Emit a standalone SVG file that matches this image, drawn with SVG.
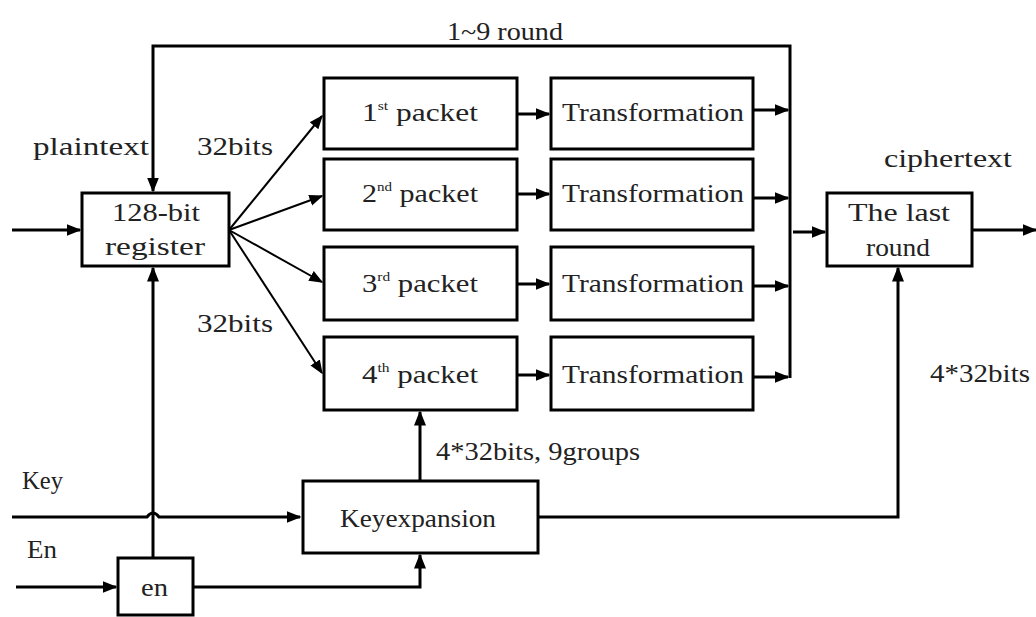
<svg xmlns="http://www.w3.org/2000/svg" width="1036" height="617" viewBox="0 0 1036 617">
<style>
.box{fill:#fff;stroke:#000;stroke-width:3}
.ln{fill:none;stroke:#000;stroke-width:3}
.thin{fill:none;stroke:#000;stroke-width:2}
text{font-family:"Liberation Serif",serif;font-size:26px;fill:#222}
.sup{font-size:13px}
</style>
<defs>
<marker id="ah" viewBox="0 0 10 10" refX="9" refY="5" markerWidth="5" markerHeight="5" orient="auto" markerUnits="strokeWidth">
<path d="M0,1 L10,5 L0,9 Z" fill="#000"/>
</marker>
<marker id="ah2" viewBox="0 0 10 10" refX="9" refY="5" markerWidth="7" markerHeight="7" orient="auto" markerUnits="strokeWidth">
<path d="M0,1 L10,5 L0,9 Z" fill="#000"/>
</marker>
</defs>
<rect width="1036" height="617" fill="#fff"/>
<g id="connectors">
<path class="ln" d="M12,230 H80" marker-end="url(#ah)"/>
<path class="ln" d="M790,378 V46 H153 V191" marker-end="url(#ah)"/>
<path class="thin" d="M229,230 L322,116" marker-end="url(#ah2)"/>
<path class="thin" d="M229,230 L322,196" marker-end="url(#ah2)"/>
<path class="thin" d="M229,230 L322,282" marker-end="url(#ah2)"/>
<path class="thin" d="M229,230 L322,373" marker-end="url(#ah2)"/>
<path class="ln" d="M517,114 H549" marker-end="url(#ah)"/>
<path class="ln" d="M517,194 H549" marker-end="url(#ah)"/>
<path class="ln" d="M517,284 H549" marker-end="url(#ah)"/>
<path class="ln" d="M517,375 H549" marker-end="url(#ah)"/>
<path class="ln" d="M753,110 H788" marker-end="url(#ah)"/>
<path class="ln" d="M753,198 H788" marker-end="url(#ah)"/>
<path class="ln" d="M753,286 H788" marker-end="url(#ah)"/>
<path class="ln" d="M753,377 H788" marker-end="url(#ah)"/>
<path class="ln" d="M793,232 H825" marker-end="url(#ah)"/>
<path class="ln" d="M972,230 H1036" marker-end="url(#ah)"/>
<path class="ln" d="M538,517 H898 V268" marker-end="url(#ah)"/>
<path class="ln" d="M12,517 H147 Q153,509 159,517 H300" marker-end="url(#ah)"/>
<path class="ln" d="M16,587 H116" marker-end="url(#ah)"/>
<path class="ln" d="M193,587 H420 V555" marker-end="url(#ah)"/>
<path class="ln" d="M153,557 V268" marker-end="url(#ah)"/>
<path class="ln" d="M420,481 V412" marker-end="url(#ah)"/>
</g>
<g id="register">
<rect class="box" x="82" y="193" width="147" height="73"/>
<text x="112" y="221" textLength="88" lengthAdjust="spacingAndGlyphs">128-bit</text>
<text x="105" y="255" textLength="100" lengthAdjust="spacingAndGlyphs">register</text>
</g>
<g id="packet1">
<rect class="box" x="324" y="78" width="193" height="71"/>
<text x="362" y="121" textLength="116" lengthAdjust="spacingAndGlyphs">1<tspan class="sup" dy="-11">st</tspan><tspan dy="11"> packet</tspan></text>
</g>
<g id="packet2">
<rect class="box" x="324" y="159" width="193" height="71"/>
<text x="362" y="202" textLength="116" lengthAdjust="spacingAndGlyphs">2<tspan class="sup" dy="-11">nd</tspan><tspan dy="11"> packet</tspan></text>
</g>
<g id="packet3">
<rect class="box" x="324" y="247" width="193" height="73"/>
<text x="362" y="292" textLength="116" lengthAdjust="spacingAndGlyphs">3<tspan class="sup" dy="-11">rd</tspan><tspan dy="11"> packet</tspan></text>
</g>
<g id="packet4">
<rect class="box" x="324" y="337" width="193" height="73"/>
<text x="362" y="383" textLength="116" lengthAdjust="spacingAndGlyphs">4<tspan class="sup" dy="-11">th</tspan><tspan dy="11"> packet</tspan></text>
</g>
<g id="trans1">
<rect class="box" x="551" y="78" width="202" height="71"/>
<text x="562" y="121" textLength="182" lengthAdjust="spacingAndGlyphs">Transformation</text>
</g>
<g id="trans2">
<rect class="box" x="551" y="159" width="202" height="71"/>
<text x="562" y="202" textLength="182" lengthAdjust="spacingAndGlyphs">Transformation</text>
</g>
<g id="trans3">
<rect class="box" x="551" y="247" width="202" height="73"/>
<text x="562" y="292" textLength="182" lengthAdjust="spacingAndGlyphs">Transformation</text>
</g>
<g id="trans4">
<rect class="box" x="551" y="337" width="202" height="73"/>
<text x="562" y="383" textLength="182" lengthAdjust="spacingAndGlyphs">Transformation</text>
</g>
<g id="lastround">
<rect class="box" x="827" y="193" width="145" height="73"/>
<text x="848" y="221" textLength="102" lengthAdjust="spacingAndGlyphs">The last</text>
<text x="866" y="256" textLength="64" lengthAdjust="spacingAndGlyphs">round</text>
</g>
<g id="keyexpansion">
<rect class="box" x="303" y="481" width="235" height="72"/>
<text x="340" y="527" textLength="156" lengthAdjust="spacingAndGlyphs">Keyexpansion</text>
</g>
<g id="en">
<rect class="box" x="118" y="558" width="75" height="57"/>
<text x="141" y="596" textLength="27" lengthAdjust="spacingAndGlyphs">en</text>
</g>
<g id="labels">
<text x="447" y="40" textLength="116" lengthAdjust="spacingAndGlyphs">1~9 round</text>
<text x="33" y="155" textLength="116" lengthAdjust="spacingAndGlyphs">plaintext</text>
<text x="197" y="155" textLength="76" lengthAdjust="spacingAndGlyphs">32bits</text>
<text x="197" y="332" textLength="76" lengthAdjust="spacingAndGlyphs">32bits</text>
<text x="884" y="167" textLength="128" lengthAdjust="spacingAndGlyphs">ciphertext</text>
<text x="930" y="382" textLength="100" lengthAdjust="spacingAndGlyphs">4*32bits</text>
<text x="436" y="460" textLength="204" lengthAdjust="spacingAndGlyphs">4*32bits, 9groups</text>
<text x="22" y="489" textLength="41" lengthAdjust="spacingAndGlyphs">Key</text>
<text x="27" y="558" textLength="30" lengthAdjust="spacingAndGlyphs">En</text>
</g>
</svg>
